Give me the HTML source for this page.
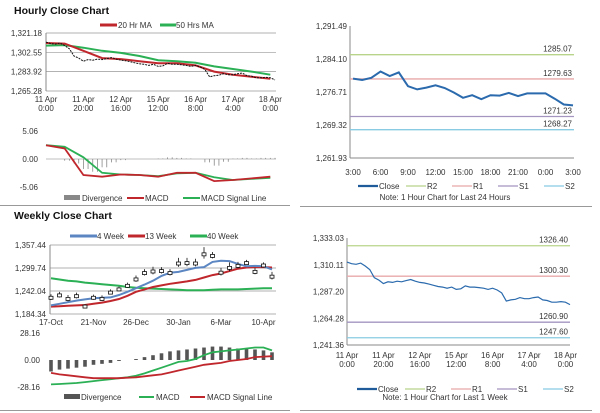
<!DOCTYPE html>
<html><head><meta charset="utf-8"><style>
html,body{margin:0;padding:0;background:#fff;}
svg{display:block;font-family:"Liberation Sans",sans-serif;}
text{fill:#333;font-size:8px;}
.t{font-size:10.5px;font-weight:bold;fill:#111;}
</style></head><body>
<svg id="s" width="600" height="413" viewBox="0 0 600 413" xmlns="http://www.w3.org/2000/svg">
<text class="t" x="14" y="14">Hourly Close Chart</text>
<text class="t" x="14" y="219">Weekly Close Chart</text>
<line x1="0" y1="205.5" x2="290" y2="205.5" stroke="#999"/>
<line x1="300" y1="206.5" x2="592" y2="206.5" stroke="#999"/>
<line x1="0" y1="410.5" x2="290" y2="410.5" stroke="#999"/>
<line x1="300" y1="410.5" x2="592" y2="410.5" stroke="#999"/>
</svg>
<script>
// ---- data ----
const hourlyClose=[1312.4,1311,1310.5,1311.5,1309,1306,1299,1297,1294,1295.5,1295,1296,1295.5,1296.5,1297.5,1296,1295,1294.5,1293.5,1292.5,1291.5,1291,1290,1291,1289,1289.5,1292,1291,1291,1290.5,1290,1289,1290,1288.5,1286,1279,1280,1280.5,1282,1281,1281,1282,1282.5,1280,1279.5,1278,1278,1278.5,1278,1276];
const ma20=[1311.5,1311,1304,1297,1296,1294,1292,1292,1290,1284,1281,1279,1277];
const ma50=[1309,1309.5,1307,1304,1302,1299,1295,1294,1292.5,1289,1286.5,1284,1281];
const hMacd=[2.5,1.9,-2.9,-3.2,-2.8,-2.9,-3.2,-2.5,-2.5,-4.0,-3.8,-3.5,-3.2];
const hSignal=[2.5,2.2,0.3,-2.5,-2.8,-2.9,-3.1,-2.6,-2.5,-3.3,-3.8,-3.6,-3.4];
const hDiv=[0,0,-0.3,-0.8,-1.8,-2.3,-1.5,-0.6,-0.2,0,0,0,0.1,0.3,0.2,0.1,0,-0.6,-1.2,-0.5,0.1,0.2,0.1,0.2,0.2];
const hourTicksA=[["11 Apr","0:00"],["11 Apr","20:00"],["12 Apr","16:00"],["15 Apr","12:00"],["16 Apr","8:00"],["17 Apr","4:00"],["18 Apr","0:00"]];
const hourlyYTicks=["1,321.18","1,302.55","1,283.92","1,265.28"];
const dayClose=[1279.7,1279.4,1279.9,1281.3,1280.3,1281.1,1278.0,1277.3,1277.7,1278.2,1277.6,1276.6,1275.4,1276.0,1275.1,1276.0,1275.9,1276.5,1275.8,1276.4,1276.4,1276.4,1275.2,1273.9,1273.7];
const dayTicks=["3:00","6:00","9:00","12:00","15:00","18:00","21:00","0:00","3:00"];
const dayYTicks=["1,291.49","1,284.10","1,276.71","1,269.32","1,261.93"];
const dayLevels=[1285.07,1279.63,1271.23,1268.27];
const weekLevels=[1326.40,1300.30,1260.90,1247.60];
const weekYTicks=["1,333.03","1,310.11","1,287.20","1,264.28","1,241.36"];
const wClose=[1225,1231,1222,1229,1203,1225,1222,1238,1246,1255,1271,1287,1291,1292,1287,1311,1312,1311,1334,1330,1288,1300,1305,1312,1290,1306,1278];
const wRange=[9,9,10,9,6,8,9,8,7,8,10,10,12,10,10,14,13,12,18,10,12,14,10,8,10,8,12];
const w4=[1206,1210,1214,1218,1221,1224,1225,1226,1232,1240,1249,1258,1268,1280,1288,1290,1295,1300,1302,1315,1318,1317,1310,1304,1305,1304,1296];
const w13=[1203,1204,1205,1206,1207,1210,1213,1217,1222,1230,1240,1246,1252,1256,1260,1263,1266,1270,1276,1282,1286,1292,1298,1301,1302,1302,1301];
const w40=[1274,1271,1268,1266,1263,1261,1259,1257,1255,1252,1250,1249,1248,1247,1246,1245,1244,1244,1244,1245,1246,1246,1246,1247,1248,1249,1249];
const wDiv=[-12,-10,-9,-8,-7,-5,-4,-3,-1,0,1,3,5,7,9,10,11,12,13,14,14,13,12,12,11,10,8];
const wMacd=[-25.5,-25,-24.5,-24,-23,-22,-21,-20,-19,-18,-16.5,-14,-11,-8,-5,-2,-1,1,5,8,9,10,11,12,13,13,10];
const wSignal=[-13.5,-15,-16,-17,-18,-19,-19,-19,-19,-18.5,-18,-17,-16,-15,-13,-11,-9,-7,-5,-4,-3,-1,0,1,3,3.5,4];
const weekTicks=["17-Oct","21-Nov","26-Dec","30-Jan","6-Mar","10-Apr"];
const weekYTicks2=["1,357.44","1,299.74","1,242.04","1,184.34"];
const wMacdTicks=["28.16","0.00","-28.16"];
const hMacdTicks=["5.06","0.00","-5.06"];

const S=document.getElementById('s');
function el(tag,a,txt){const e=document.createElementNS('http://www.w3.org/2000/svg',tag);for(const k in a)e.setAttribute(k,a[k]);if(txt!==undefined)e.textContent=txt;S.appendChild(e);return e;}
function lin(d0,d1,r0,r1){return v=>r0+(v-d0)/(d1-d0)*(r1-r0);}
function path(arr,xf,yf){return arr.map((v,i)=>(i?'L':'M')+xf(i).toFixed(1)+' '+yf(v).toFixed(1)).join(' ');}

// ---- Chart A: hourly close with MAs ----
{const x=lin(0,49,46,275), yA=lin(1265.28,1321.18,91,33);
 hourlyYTicks.forEach((t,i)=>{const yy=33+i*19.33;
  const g=el('line',{x1:46,x2:276,y1:yy,y2:yy,stroke:'#999','stroke-width':0.7});
  
  
  const l=el('text',{x:42,y:yy+3,'text-anchor':'end'},t);
  
  });
 const ax=el('line',{x1:46,x2:46,y1:33,y2:91,stroke:'#888'});
 
 
 hourTicksA.forEach((t,i)=>{const xx=x(i*8);
  const a=el('text',{x:xx,y:102,'text-anchor':'middle'},t[0]);
  
  
  const b=el('text',{x:xx,y:111,'text-anchor':'middle'},t[1]);
  
  });
 const xm=i=>x(i*4);
 const p3=el('path',{d:path(ma50,xm,yA),fill:'none',stroke:'#2bb055','stroke-width':2});
 
 
 const p2=el('path',{d:path(ma20,xm,yA),fill:'none',stroke:'#c0272d','stroke-width':2});
 
 
 const p1=el('path',{d:path(hourlyClose,x,yA),fill:'none',stroke:'#111','stroke-width':1,'stroke-dasharray':'2 1'});
 
 
 const l1=el('line',{x1:100,x2:117,y1:25,y2:25,stroke:'#c0272d','stroke-width':3});
 
 
 const t1=el('text',{x:118,y:28},'20 Hr MA');
 
 
 const l2=el('line',{x1:160,x2:176,y1:25,y2:25,stroke:'#2bb055','stroke-width':3});
 
 
 const t2=el('text',{x:176,y:28},'50 Hrs MA');
 
 }

// ---- Chart B: hourly MACD ----
{const x=lin(0,49,46,275), y=lin(-5.06,5.06,187,131);
 hMacdTicks.forEach((t,i)=>{const l=el('text',{x:38,y:[131,159,187][i]+3,'text-anchor':'end'},t);
  
  });
 const z=el('line',{x1:46,x2:276,y1:y(0),y2:y(0),stroke:'#aaa','stroke-width':0.7});
 
 
 hDiv.forEach((v,i)=>{for(let k=0;k<2;k++){const xx=x(i*2+k);
  const b=el('line',{x1:xx,x2:xx,y1:y(0),y2:y(v),stroke:'#888','stroke-width':0.8});
  
  }});
 const xm=i=>x(i*4);
 const g=el('path',{d:path(hSignal,xm,y),fill:'none',stroke:'#2bb055','stroke-width':1.8});
 
 
 const r=el('path',{d:path(hMacd,xm,y),fill:'none',stroke:'#c0272d','stroke-width':1.8});
 
 
 const leg=[['Divergence','#888',64,82,'rect'],['MACD','#c0272d',127,145,'line'],['MACD Signal Line','#2bb055',183,201,'line']];
 leg.forEach(L=>{let s;
  if(L[4]==='rect'){s=el('rect',{x:L[2],y:195,width:16,height:5,fill:L[1]});}
  else{s=el('line',{x1:L[2],x2:L[3]-1,y1:198,y2:198,stroke:L[1],'stroke-width':2});}
  
  
  const t=el('text',{x:L[3],y:201},L[0]);
  
  });}

// ---- Pivot chart helper ----
function pivot(cfg){const {x,y,x0,x1,ylabs,yTop,yStep,levels,close,ticks,legY,note,noteY,pre}=cfg;
 const ax=el('line',{x1:x0,x2:x0,y1:yTop,y2:yTop+yStep*(ylabs.length-1),stroke:'#888'});
 
 
 const bx=el('line',{x1:x0,x2:x1,y1:yTop+yStep*(ylabs.length-1),y2:yTop+yStep*(ylabs.length-1),stroke:'#888'});
 
 
 ylabs.forEach((t,i)=>{const l=el('text',{x:x0-3,y:yTop+i*yStep+3,'text-anchor':'end'},t);
  
  });
 const cols=['#b8d48a','#e8a8a8','#a394c0','#88cbe2'];
 levels.forEach((v,i)=>{const yy=y(v);
  const l=el('line',{x1:x0,x2:x1,y1:yy,y2:yy,stroke:cols[i],'stroke-width':1.3});
  
  
  const t=el('text',{x:x1-2,y:yy-3,'text-anchor':'end','font-size':'8.5px'},v.toFixed(2));
  
  });
 const p=el('path',{d:path(close,x,y),fill:'none',stroke:'#2a6aad','stroke-width':cfg.w});
 
 
 ticks.forEach(tk=>{tk.lines.forEach((s,j)=>{const t=el('text',{x:tk.x,y:tk.y+j*9,'text-anchor':'middle'},s);
  
  });});
 const leg=[['Close','#1f5a9a'],['R2',cols[0]],['R1',cols[1]],['S1',cols[2]],['S2',cols[3]]];
 let lx=cfg.legX;
 leg.forEach((L,i)=>{const s=el('line',{x1:lx,x2:lx+20,y1:legY-3,y2:legY-3,stroke:L[1],'stroke-width':i?1.3:2.2});
  
  
  const t=el('text',{x:lx+21,y:legY},L[0]);
  
  
  lx+=i?46:48;});
 const n=el('text',{x:cfg.noteX,y:noteY,'text-anchor':'middle','font-size':'6.5px'},note);
 
 }

{const x=lin(0,24,353,573), y=lin(1261.93,1291.49,158,26);
 pivot({pre:'daily',x,y,x0:350,x1:574,ylabs:dayYTicks,yTop:26,yStep:33,levels:dayLevels,close:dayClose,w:2,
  ticks:dayTicks.map((t,i)=>({x:x(i*3),y:175,lines:[t]})),legX:358,legY:189,note:'Note: 1 Hour Chart for Last 24 Hours',noteX:445,noteY:200});}
{const x=lin(0,49,347,570), y=lin(1241.36,1333.03,345,238);
 pivot({pre:'weekly-pivot',x,y,x0:347,x1:570,ylabs:weekYTicks,yTop:238,yStep:26.75,levels:weekLevels,close:hourlyClose,w:1.2,
  ticks:hourTicksA.map((t,i)=>({x:x(i*8),y:358,lines:t})),legX:357,legY:392,note:'Note: 1 Hour Chart for Last 1 Week',noteX:445,noteY:400});}

// ---- Chart C: weekly close ----
{const x=lin(0,26,51,272), y=lin(1184.34,1357.44,314,245);
 weekYTicks2.forEach((t,i)=>{const yy=245+i*23;
  const g=el('line',{x1:50,x2:276,y1:yy,y2:yy,stroke:'#999','stroke-width':0.7});
  
  
  const l=el('text',{x:46,y:yy+3,'text-anchor':'end'},t);
  
  });
 const ax=el('line',{x1:50,x2:50,y1:245,y2:314,stroke:'#888'});
 
 
 weekTicks.forEach((t,i)=>{const l=el('text',{x:x(i*5),y:325,'text-anchor':'middle'},t);
  
  });
 const pg=el('path',{d:path(w40,x,y),fill:'none',stroke:'#2bb055','stroke-width':2});
 
 
 const pr=el('path',{d:path(w13,x,y),fill:'none',stroke:'#c0272d','stroke-width':2});
 
 
 const pb=el('path',{d:path(w4,x,y),fill:'none',stroke:'#5b86c2','stroke-width':2});
 
 
 wClose.forEach((v,i)=>{const xx=x(i);
  const w=el('line',{x1:xx,x2:xx,y1:y(v+wRange[i]),y2:y(v-wRange[i]*0.6),stroke:'#111','stroke-width':0.8});
  
  
  const b=el('rect',{x:xx-2,y:y(v)-1.5,width:4,height:3,fill:'#fff',stroke:'#111','stroke-width':0.8});
  
  });
 const leg=[['4 Week','#5b86c2',70,97],['13 Week','#c0272d',128,145],['40 Week','#2bb055',190,207]];
 leg.forEach(L=>{const s=el('line',{x1:L[2],x2:L[3],y1:236,y2:236,stroke:L[1],'stroke-width':3});
  
  
  const t=el('text',{x:L[3],y:239},L[0]);
  
  });}

// ---- Chart D: weekly MACD ----
{const x=lin(0,26,51,272), y=lin(-28.16,28.16,387,333);
 wMacdTicks.forEach((t,i)=>{const l=el('text',{x:40,y:[333,360,387][i]+3,'text-anchor':'end'},t);
  
  });
 wDiv.forEach((v,i)=>{const y0=y(0),y1=y(v);
  const b=el('rect',{x:x(i)-1.8,y:Math.min(y0,y1),width:3.6,height:Math.abs(y1-y0),fill:'#555'});
  
  });
 const g=el('path',{d:path(wMacd,x,y),fill:'none',stroke:'#2bb055','stroke-width':1.8});
 
 
 const r=el('path',{d:path(wSignal,x,y),fill:'none',stroke:'#c0272d','stroke-width':1.8});
 
 
 const leg=[['Divergence','#555',64,80,'rect'],['MACD','#2bb055',139,155,'line'],['MACD Signal Line','#c0272d',190,206,'line']];
 leg.forEach(L=>{let s;
  if(L[4]==='rect'){s=el('rect',{x:L[2],y:394,width:16,height:5,fill:L[1]});}
  else{s=el('line',{x1:L[2],x2:L[3]-1,y1:397,y2:397,stroke:L[1],'stroke-width':2});}
  
  
  const t=el('text',{x:L[3]+1,y:400},L[0]);
  
  });}
</script>
</body></html>
